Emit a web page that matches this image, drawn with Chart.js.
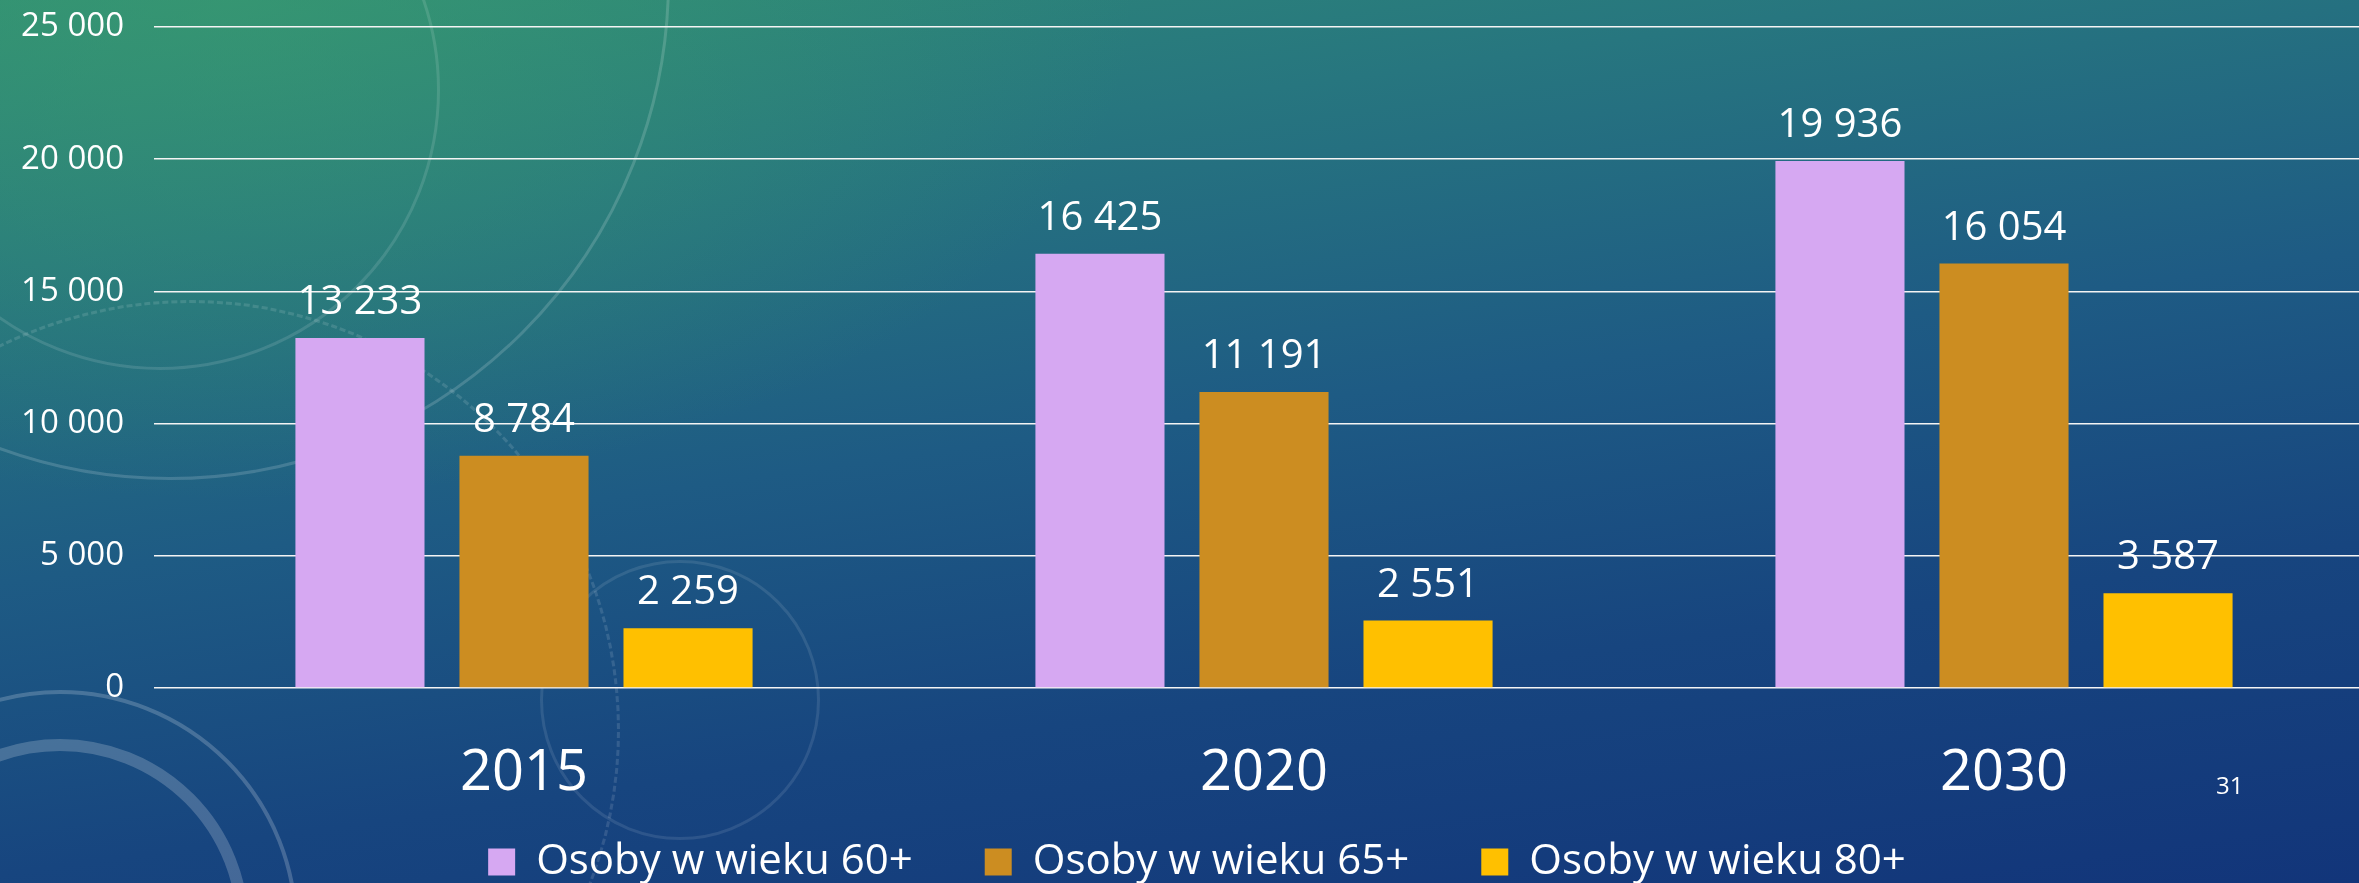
<!DOCTYPE html>
<html>
<head>
<meta charset="utf-8">
<script src="https://cdn.jsdelivr.net/npm/chart.js@4/dist/chart.umd.min.js"></script>
<style>
    html, body {
        margin: 0;
        width: 2359px;
        height: 883px;
        overflow: hidden;
    }
    body {
        position: relative;
        background:
            radial-gradient(ellipse 900px 500px at 10% 0%, rgba(60, 160, 110, 0.55), rgba(60, 160, 110, 0) 100%),
            linear-gradient(172deg, #2f8b76 0%, #27767f 22%, #1e5b84 48%, #17457f 72%, #12357a 100%);
        font-family: "Open Sans", sans-serif;
    }
    .deco {
        position: absolute;
        box-sizing: border-box;
        border-radius: 50%;
        border: 3px solid rgba(255, 255, 255, 0.16);
        pointer-events: none;
    }
    #wrap {
        position: absolute;
        left: 0;
        top: 0;
    }
    #page {
        position: absolute;
        left: 2216px;
        top: 768px;
        color: #fff;
        font-size: 24px;
    }
</style>
</head>
<body>
<div class="deco" style="left:-330px;top:-520px;width:1000px;height:1000px;"></div>
<div class="deco" style="left:-120px;top:-190px;width:560px;height:560px;border-color:rgba(255,255,255,0.12)"></div>
<div class="deco" style="left:-178px;top:690px;width:476px;height:476px;border-width:4px;border-color:rgba(255,255,255,0.2)"></div>
<div class="deco" style="left:-129px;top:739px;width:378px;height:378px;border-width:12px;border-color:rgba(255,255,255,0.2)"></div>
<div class="deco" style="left:-240px;top:300px;width:860px;height:860px;border-style:dashed;border-color:rgba(255,255,255,0.12)"></div>
<div class="deco" style="left:540px;top:560px;width:280px;height:280px;border-color:rgba(255,255,255,0.10)"></div>
<div id="wrap"><canvas id="chart" width="2374" height="893"></canvas></div>
<div id="page">31</div>
<script>
    const categories = ['2015', '2020', '2030'];
    const seriesNames = ['Osoby w wieku 60+', 'Osoby w wieku 65+', 'Osoby w wieku 80+'];
    const age60 = [13233, 16425, 19936];
    const age65 = [8784, 11191, 16054];
    const age80 = [2259, 2551, 3587];
    const yTicks = [0, 5000, 10000, 15000, 20000, 25000];
    const colors = ['#d6a8f2', '#cc8d21', '#ffc000'];

    const font = '"Open Sans", sans-serif';

    /**
     * 13233 -> "13 233"
     */
    function fmt(v) {
        return String(v).replace(/\B(?=(\d{3})+(?!\d))/g, ' ');
    }

    // value labels above every bar
    const valueLabels = {
        id: 'valueLabels',
        afterDatasetsDraw(chart) {
            const ctx = chart.ctx;
            ctx.save();
            ctx.fillStyle = '#ffffff';
            ctx.font = '40px ' + font;
            ctx.textAlign = 'center';
            ctx.textBaseline = 'alphabetic';
            chart.data.datasets.forEach((ds, i) => {
                chart.getDatasetMeta(i).data.forEach((bar, j) => {
                    ctx.fillText(fmt(ds.data[j]), bar.x, bar.y - 24);
                });
            });
            ctx.restore();
        }
    };

    const seriesValues = [age60, age65, age80];

    new Chart(document.getElementById('chart'), {
        type: 'bar',
        data: {
            labels: categories,
            datasets: seriesNames.map((name, i) => ({
                label: name,
                data: seriesValues[i],
                backgroundColor: colors[i],
                borderWidth: 0,
                categoryPercentage: 0.665,
                barPercentage: 0.787
            }))
        },
        options: {
            responsive: false,
            animation: false,
            layout: {
                padding: {left: 20, top: 27, right: 0, bottom: 0}
            },
            plugins: {
                tooltip: {enabled: false},
                legend: {
                    position: 'bottom',
                    labels: {
                        color: '#ffffff',
                        font: {family: font, size: 42},
                        boxWidth: 27,
                        boxHeight: 27,
                        padding: 72
                    }
                }
            },
            scales: {
                x: {
                    grid: {display: false},
                    border: {display: false},
                    ticks: {
                        color: '#ffffff',
                        font: {family: font, size: 56},
                        // mirror + negative padding: labels sit below the axis but are not clipped
                        // to the (short) axis box, the legend needs the room underneath
                        mirror: true,
                        padding: -119.6
                    },
                    afterFit(scale) {
                        scale.height = 81;
                    }
                },
                y: {
                    min: 0,
                    max: 25000,
                    afterBuildTicks(scale) {
                        scale.ticks = yTicks.map(v => ({value: v}));
                    },
                    grid: {
                        color: '#f4f4f4',
                        lineWidth: 1.6,
                        drawTicks: false
                    },
                    border: {display: false},
                    ticks: {
                        color: '#ffffff',
                        font: {family: font, size: 33},
                        padding: 30,
                        callback: v => fmt(v)
                    },
                    afterFit(scale) {
                        scale.width = 134;
                        scale.paddingTop = 0;
                        scale.paddingBottom = 0;
                    }
                }
            }
        },
        plugins: [valueLabels]
    });
</script>
</body>
</html>
